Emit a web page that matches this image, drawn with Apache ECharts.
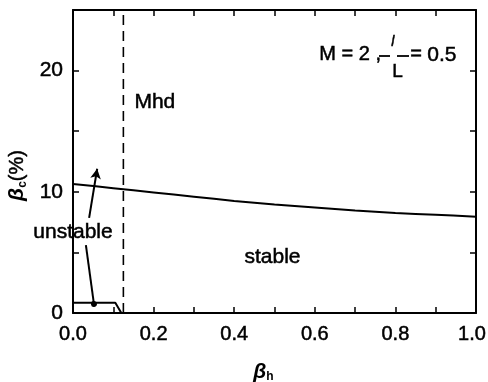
<!DOCTYPE html>
<html><head><meta charset="utf-8">
<script src="https://cdn.jsdelivr.net/npm/echarts@6/dist/echarts.min.js"></script>
<style>html,body{margin:0;padding:0;background:#fff}#c{width:488px;height:382px}</style>
</head><body><div id="c"></div>
<script>
// Data
const curveBh = [0, 0.1, 0.2, 0.3, 0.4, 0.5, 0.6, 0.7, 0.8, 0.9, 1.0];
const curveBc = [10.65, 10.3, 9.95, 9.6, 9.25, 8.95, 8.7, 8.45, 8.25, 8.1, 7.95];
const mhdLimitBh = 0.125;
const smallRegion = [[0, 0.85], [0.105, 0.85], [0.12, 0]];
const arrowUp = [[0.040, 7.85], [0.060, 11.9]];
const arrowDown = [[0.032, 5.6], [0.052, 0.74]];
const annotations = [
  {name: 'unstable', pos: [0.0, 6.7]},
  {name: 'Mhd', pos: [0.203, 17.4]},
  {name: 'stable', pos: [0.495, 4.6]}
];
const xTicks = [0, 0.2, 0.4, 0.6, 0.8, 1.0];
const yTicks = [0, 10, 20];

const FONT = '"Liberation Sans", Arial, sans-serif';
const FS = 21;
const heavy = {textBorderColor: '#000', textBorderWidth: 0.5};
const chart = echarts.init(document.getElementById('c'));
const axisCommon = {
  axisLine: {show: true, onZero: false, lineStyle: {color: '#000', width: 2}},
  axisTick: {show: true, inside: true, length: 6, lineStyle: {color: '#000', width: 1.5}},
  minorTick: {show: true, splitNumber: 2, length: 6, lineStyle: {color: '#000', width: 1.5}},
  splitLine: {show: false}
};
chart.setOption({
  animation: false,
  grid: {left: 73, right: 12, top: 10, bottom: 69, outerBoundsMode: 'none', containLabel: false},
  xAxis: [
    Object.assign({type: 'value', min: 0, max: 1, interval: 0.2, position: 'bottom',
      axisLabel: Object.assign({color: '#000', fontSize: 20, fontFamily: FONT, margin: 11,
        rich: {e: {fontSize: 20, fontFamily: FONT, color: '#000', textBorderColor: '#000', textBorderWidth: 0.5, padding: [0, 8, 0, 0]}},
        formatter: v => {
          const r = Math.round(v * 10) / 10;
          if (!xTicks.includes(r)) return '';
          return r === 1 ? '{e|' + r.toFixed(1) + '}' : r.toFixed(1);
        }}, heavy),
      name: '{b|β}{s|h}', nameLocation: 'middle', nameGap: 48,
      nameTextStyle: {padding: [0, 22, 0, 0], rich: {b: {fontSize: 21, fontStyle: 'italic', fontWeight: 'bold', fontFamily: FONT, color: '#000'},
        s: {fontSize: 12, fontWeight: 'bold', fontFamily: FONT, color: '#000', padding: [10, 0, 0, 0]}}}
    }, axisCommon),
    Object.assign({type: 'value', min: 0, max: 1, interval: 0.2, position: 'top', axisLabel: {show: false}}, axisCommon)
  ],
  yAxis: [
    Object.assign({type: 'value', min: 0, max: 25, interval: 10, position: 'left',
      axisLabel: Object.assign({color: '#000', fontSize: FS, fontFamily: FONT, margin: 10,
        formatter: v => yTicks.includes(v) ? String(v) : ''}, heavy),
      name: '{b|β}{s|c}{p|(%)}', nameLocation: 'middle', nameGap: 38, nameRotate: 90,
      nameTextStyle: {padding: [0, 28, 0, 0], rich: {b: {fontSize: 21, fontStyle: 'italic', fontWeight: 'bold', fontFamily: FONT, color: '#000'},
        s: {fontSize: 12, fontWeight: 'bold', fontFamily: FONT, color: '#000', padding: [10, 0, 0, 0]},
        p: {fontSize: 20, fontFamily: FONT, color: '#000', textBorderColor: '#000', textBorderWidth: 0.5}}}
    }, axisCommon),
    Object.assign({type: 'value', min: 0, max: 25, interval: 10, position: 'right', axisLabel: {show: false}}, axisCommon)
  ],
  series: [
    {type: 'line', data: curveBh.map((b, i) => [b, curveBc[i]]), symbol: 'none', smooth: 0.3,
      lineStyle: {color: '#000', width: 2}},
    {type: 'line', data: [[mhdLimitBh, 0], [mhdLimitBh, 25]], symbol: 'none',
      lineStyle: {color: '#000', width: 1.6, type: [10, 6]}},
    {type: 'line', data: smallRegion, symbol: 'none', lineStyle: {color: '#000', width: 2}},
    {type: 'line', data: arrowUp, symbol: 'none', lineStyle: {width: 0}, silent: true,
      markLine: {silent: true, animation: false, symbol: ['none', 'arrow'], symbolSize: [8, 10],
        lineStyle: {color: '#000', width: 2, type: 'solid'}, label: {show: false},
        data: [[{coord: arrowUp[0]}, {coord: arrowUp[1]}]]}},
    {type: 'line', data: arrowDown, symbol: 'none', lineStyle: {width: 0}, silent: true,
      markLine: {silent: true, animation: false, symbol: ['none', 'circle'], symbolSize: [6, 7],
        lineStyle: {color: '#000', width: 2, type: 'solid'}, label: {show: false},
        data: [[{coord: arrowDown[0]}, {coord: arrowDown[1]}]]}},
    {type: 'scatter', symbolSize: 1, clip: false, itemStyle: {color: 'transparent', opacity: 1},
      data: annotations.map(a => ({name: a.name, value: a.pos})),
      label: {show: true, position: 'inside', formatter: p => p.name, color: '#000', fontSize: FS,
        fontFamily: FONT, textBorderColor: '#000', textBorderWidth: 0.5}}
  ],
  graphic: [
    {type: 'text', left: 319, top: 44, style: {text: 'M = 2 ,', font: '20px ' + FONT, fill: '#000', stroke: '#000', lineWidth: 0.5}},
    {type: 'line', shape: {x1: 379, y1: 56, x2: 390, y2: 56}, style: {stroke: '#000', lineWidth: 1.8}},
    {type: 'line', shape: {x1: 397, y1: 56, x2: 409, y2: 56}, style: {stroke: '#000', lineWidth: 1.8}},
    {type: 'text', left: 391, top: 35, style: {text: 'l', font: 'italic 14px ' + FONT, fill: '#000', stroke: '#000', lineWidth: 0.5}},
    {type: 'text', left: 392, top: 62, style: {text: 'L', font: '19px ' + FONT, fill: '#000', stroke: '#000', lineWidth: 0.5}},
    {type: 'text', left: 410, top: 44, style: {text: '=', font: '20px ' + FONT, fill: '#000', stroke: '#000', lineWidth: 0.5}},
    {type: 'text', left: 427, top: 44, style: {text: '0.5', font: '21px ' + FONT, fill: '#000', stroke: '#000', lineWidth: 0.5}}
  ]
});
</script></body></html>
